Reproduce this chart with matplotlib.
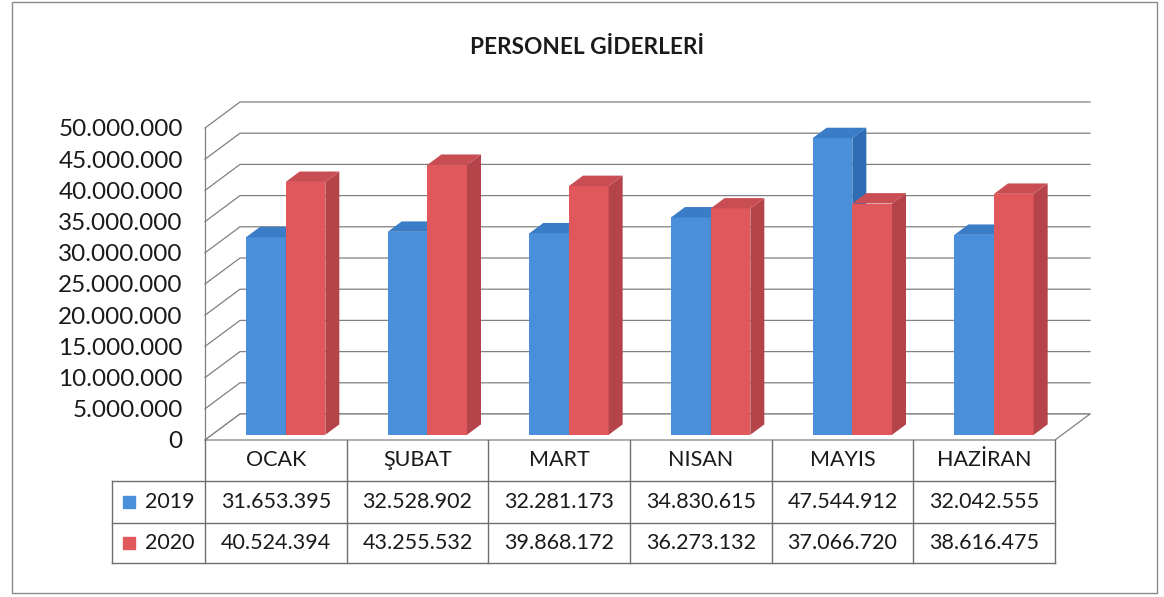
import matplotlib
matplotlib.use("Agg")
import matplotlib.pyplot as plt
from matplotlib.patches import Polygon, Rectangle
from matplotlib.ticker import FuncFormatter

plt.rcParams["font.family"] = ["Lato", "DejaVu Sans"]

title = "PERSONEL GİDERLERİ"
months = ["OCAK", "ŞUBAT", "MART", "NISAN", "MAYIS", "HAZİRAN"]
years = ["2019", "2020"]
vals_2019 = [31653395, 32528902, 32281173, 34830615, 47544912, 32042555]
vals_2020 = [40524394, 43255532, 39868172, 36273132, 37066720, 38616475]
yticks = list(range(0, 50000001, 5000000))

front = ["#4a8fd9", "#e0575c"]
side = ["#2f6cb3", "#b4434a"]
top = ["#3b7cc7", "#c94e54"]
grid_c = "#808080"
txt_c = "#1a1a1a"


def fmt(v):
    return f"{int(v):,}".replace(",", ".")


W, H = 1164, 597
fig = plt.figure(figsize=(W / 100, H / 100), dpi=100)
ax = fig.add_axes([205 / W, 1 - 440 / H, 850 / W, 312 / H])
n = len(months)
ax.set_xlim(0, n)
ax.set_ylim(0, yticks[-1])

# depth offset of the 3D box, in data units
dx = 35 / 850 * n
dy = 26 / 312 * yticks[-1]

# back wall gridlines + left wall
for v in yticks:
    ax.plot([0, dx, n + dx], [v, v + dy, v + dy], color=grid_c, lw=0.9, clip_on=False, zorder=1)
ax.plot([0, 0], [0, yticks[-1]], color=grid_c, lw=0.9, clip_on=False, zorder=1)
ax.add_patch(Polygon([(0, 0), (n, 0), (n + dx, dy), (dx, dy)], closed=True, fc="white",
                     ec=grid_c, lw=0.9, clip_on=False, zorder=1.5))

# 3D columns
f0, f1 = 0.2, 0.6
offs = [0.24, 0.52]
w = 0.28
z = 3
for i in range(n):
    for s, vals in enumerate([vals_2019, vals_2020]):
        v = vals[i]
        x = i + offs[s] + f0 * dx
        b0 = f0 * dy
        ddx, ddy = (f1 - f0) * dx, (f1 - f0) * dy
        ax.bar(x, v, width=w, bottom=b0, align="edge", color=front[s], zorder=z, clip_on=False)
        ax.add_patch(Polygon([(x + w, b0), (x + w + ddx, b0 + ddy), (x + w + ddx, b0 + v + ddy),
                              (x + w, b0 + v)], closed=True, fc=side[s], ec="none",
                             zorder=z, clip_on=False))
        ax.add_patch(Polygon([(x, b0 + v), (x + w, b0 + v), (x + w + ddx, b0 + v + ddy),
                              (x + ddx, b0 + v + ddy)], closed=True, fc=top[s], ec="none",
                             zorder=z, clip_on=False))
        z += 1

ax.set_yticks(yticks)
ax.yaxis.set_major_formatter(FuncFormatter(lambda v, _: fmt(v)))
ax.tick_params(axis="y", length=0, pad=16, labelsize=17.5, labelcolor=txt_c)
ax.set_xticks([])
for sp in ax.spines.values():
    sp.set_visible(False)
ax.patch.set_alpha(0)

# data table under the chart
tr = ax.get_xaxis_transform()
hb, rs, bt = -41 / 312, -83 / 312, -123 / 312
xl = -94 / 142.5
lk = dict(color="#6f6f6f", lw=1.0, transform=tr, clip_on=False, zorder=2)
for yy in (hb, rs, bt):
    ax.plot([xl, n], [yy, yy], **lk)
for i in range(n + 1):
    ax.plot([i, i], [0, bt], **lk)
ax.plot([xl, xl], [hb, bt], **lk)

tk = dict(transform=tr, ha="center", va="center", fontsize=15.5, color=txt_c, clip_on=False)
for i, m in enumerate(months):
    ax.text(i + 0.5, hb / 2, m, **tk)
for r, (yr, vals) in enumerate(zip(years, [vals_2019, vals_2020])):
    yc = [(hb + rs) / 2, (rs + bt) / 2][r]
    for i, v in enumerate(vals):
        ax.text(i + 0.5, yc, fmt(v), **tk)
    ax.text(-0.25, yc, yr, **tk)
    ax.plot([-0.54], [yc], marker="s", ms=8, color=front[r], transform=tr, clip_on=False)

fig.text(587 / W, 1 - 47 / H, title, ha="center", va="center", fontsize=16.3,
         fontweight="bold", color=txt_c)
fig.add_artist(Rectangle((12 / W, 4 / H), (1157 - 12) / W, (593 - 2) / H,
                         transform=fig.transFigure, fill=False, ec="#8a8a8a", lw=1))

fig.savefig("out.png", dpi=100)
